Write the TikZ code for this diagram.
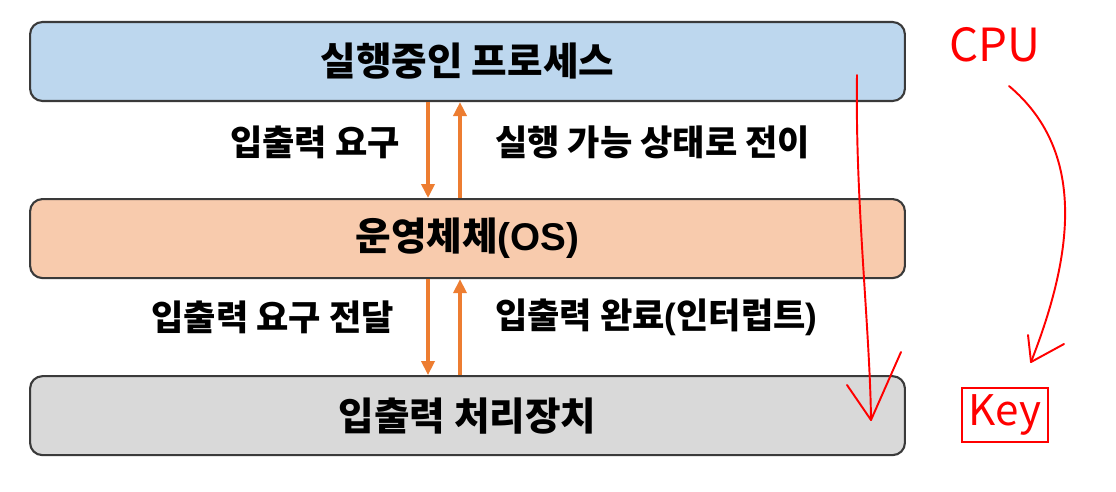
\documentclass[tikz,border=0pt]{standalone}
\usepackage{fontspec}
\setmainfont{Noto Sans CJK KR}
\newfontfamily\latinfont{Liberation Sans}
\usepackage{xcolor}
\usetikzlibrary{arrows.meta,positioning}

\definecolor{procblue}{HTML}{BDD7EE}
\definecolor{osorange}{HTML}{F8CBAD}
\definecolor{devgray}{HTML}{D9D9D9}
\definecolor{arrorange}{HTML}{ED7D31}
\definecolor{edgegray}{HTML}{3A3A3A}

\begin{document}
\begin{tikzpicture}[
  x=0.02cm, y=-0.02cm,
  node distance=1.92cm,
  box/.style={draw=edgegray, line width=1.2pt, rounded corners=7pt, align=center, minimum width=17.5cm, minimum height=1.58cm, font=\fontsize{22}{26}\selectfont\bfseries},
  lbl/.style={font=\fontsize{20}{24}\selectfont\bfseries},
  arrow/.style={-{Triangle[length=2.8mm,width=2.6mm]}, line width=2.2pt, draw=arrorange},
  pen/.style={draw=red, line width=1.1pt, line cap=round, line join=round}
]
\useasboundingbox (0,0) rectangle (1116,491);
\node[box, fill=procblue] (proc) at (467.5,61.5) {실행중인 프로세스};
\node[box, fill=osorange, below=of proc] (os) {운영체체{\latinfont(OS)}};
\node[box, fill=devgray, below=of os] (dev) {입출력 처리장치};
% process <-> os
\draw[arrow] ([xshift=-0.79cm]proc.south) -- ([xshift=-0.79cm]os.north);
\draw[arrow] ([xshift=-0.15cm]os.north) -- ([xshift=-0.15cm]proc.south);
\node[lbl, anchor=east] (req) at (406,142) {입출력 요구};
\node[lbl, anchor=west] (ready) at (489,142) {실행 가능 상태로 전이};
% os <-> device
\draw[arrow] ([xshift=-0.79cm]os.south) -- ([xshift=-0.79cm]dev.north);
\draw[arrow] ([xshift=-0.15cm]dev.north) -- ([xshift=-0.15cm]os.south);
\node[lbl, anchor=east] (pass) at (400,317) {입출력 요구 전달};
\node[lbl, anchor=west] (done) at (489,317) {입출력 완료{\latinfont(}인터럽트{\latinfont)}};
% hand notes
\node[text=red, font=\fontsize{26}{30}\selectfont] (cpu) at (995,45) {CPU};
\node[text=red, font=\fontsize{24}{28}\selectfont, draw=red, line width=1.1pt, inner sep=4pt] (key) at (1005,415) {Key};
\draw[pen] (857,75) .. controls (855,200) and (870,330) .. (871,420);
\draw[pen] (847,385) -- (871,420) -- (901,352);
\draw[pen] (1009,86) .. controls (1085,150) and (1075,250) .. (1031,362);
\draw[pen] (1028,335) -- (1031,362) -- (1064,344);
\end{tikzpicture}
\end{document}
